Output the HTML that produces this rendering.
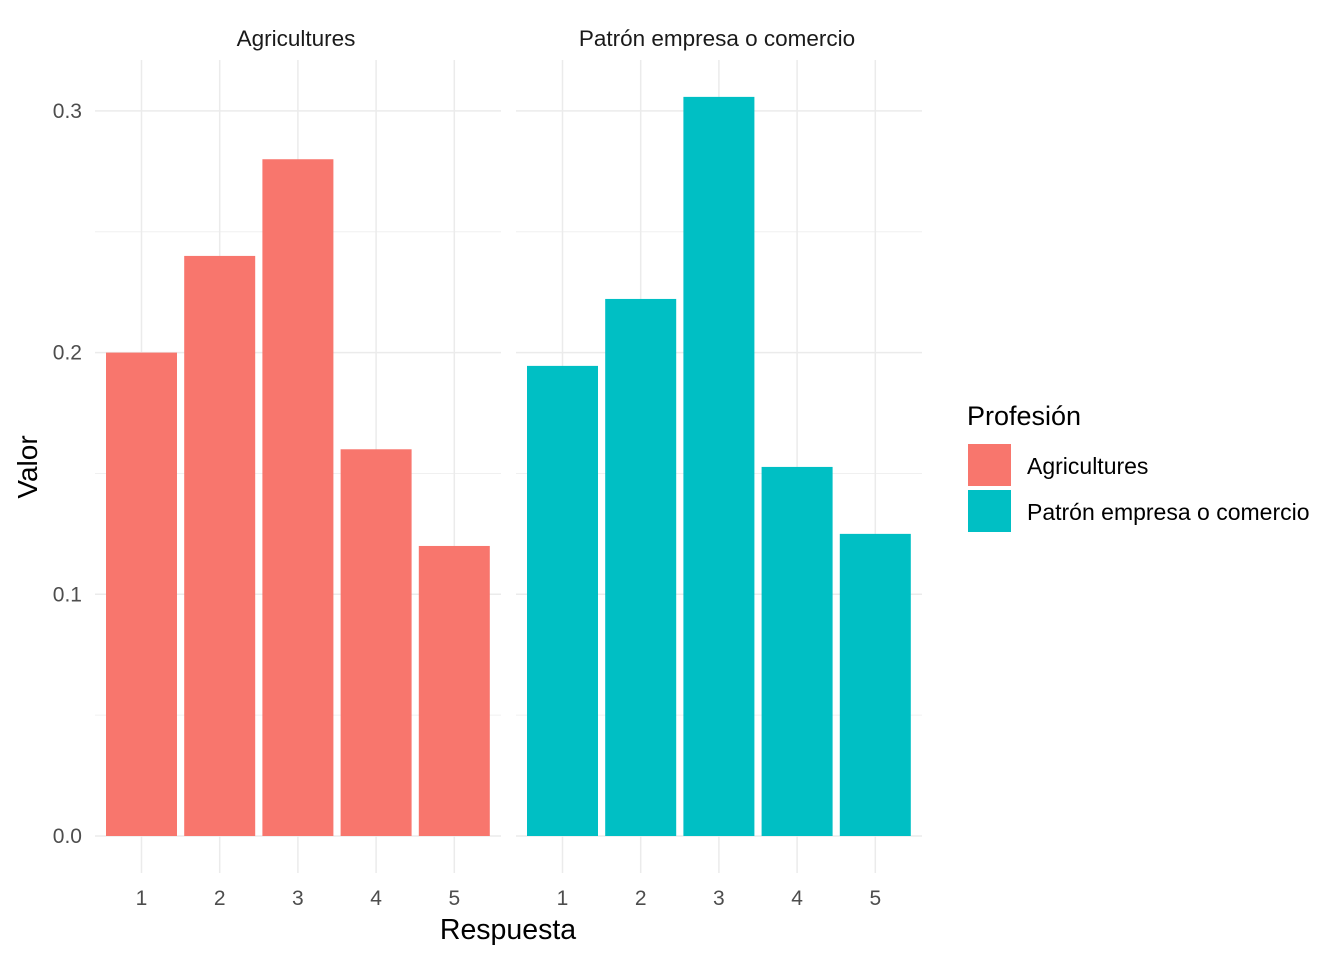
<!DOCTYPE html>
<html><head><meta charset="utf-8"><style>
body{margin:0;background:#fff;}
svg{display:block;font-family:"Liberation Sans",Arial,sans-serif;}
</style></head><body>
<svg id="chart" width="1344" height="960" xmlns="http://www.w3.org/2000/svg">
<g id="panels"></g>
<text x="508" y="939" font-size="28.5" text-anchor="middle" fill="#000">Respuesta</text>
<text transform="translate(37,467) rotate(-90)" font-size="28" text-anchor="middle" fill="#000">Valor</text>
<g>
<text x="967" y="425" font-size="27" fill="#000">Profesión</text>
<rect x="968" y="444" width="43" height="42" fill="#F8766D"/>
<text x="1027" y="474" font-size="23" fill="#000">Agricultures</text>
<rect x="968" y="490" width="43" height="42" fill="#00BFC4"/>
<text x="1027" y="520" font-size="23" fill="#000">Patrón empresa o comercio</text>
</g>
</svg>
<script>
const categories=["1","2","3","4","5"];
const agricultures=[0.2,0.24,0.28,0.16,0.12];
const patron=[0.1945,0.2222,0.3058,0.1527,0.125];
const yTicks=[0,0.1,0.2,0.3];
const yTickLabels=["0.0","0.1","0.2","0.3"];
const yMinor=[0.05,0.15,0.25];
const facets=["Agricultures","Patrón empresa o comercio"];

const NS="http://www.w3.org/2000/svg";
const y=v=>836-v*2417;
const panelX=[95,516], panelW=406, step=78.2, barW=71;
const xc=(p,i)=>panelX[p]+46.5+i*step;
const g=document.getElementById('panels');
function mk(t,a,parent){const e=document.createElementNS(NS,t);for(const k in a)e.setAttribute(k,a[k]);(parent||g).appendChild(e);return e;}
const series=[agricultures,patron], colors=["#F8766D","#00BFC4"];
facets.forEach((f,p)=>{
  const pg=mk('g',{});
  
  
  yMinor.forEach(v=>{const l=mk('line',{x1:panelX[p],x2:panelX[p]+panelW,y1:y(v),y2:y(v),stroke:"#f0f0f0","stroke-width":1},pg);
    });
  yTicks.forEach(v=>{const l=mk('line',{x1:panelX[p],x2:panelX[p]+panelW,y1:y(v),y2:y(v),stroke:"#ebebeb","stroke-width":1.5},pg);
    });
  categories.forEach((c,i)=>{const l=mk('line',{x1:xc(p,i),x2:xc(p,i),y1:60,y2:873,stroke:"#ebebeb","stroke-width":1.5},pg);
    });
  series[p].forEach((v,i)=>{const r=mk('rect',{x:xc(p,i)-barW/2,y:y(v),width:barW,height:y(0)-y(v),fill:colors[p]},pg);
    
    const t=mk('text',{x:xc(p,i),y:905,"font-size":21,"text-anchor":"middle",fill:"#4d4d4d"},pg);t.textContent=categories[i];
    });
  const s=mk('text',{x:panelX[p]+panelW/2-2,y:46,"font-size":22.5,"text-anchor":"middle",fill:"#1a1a1a"},pg);s.textContent=f;
  
});
yTicks.forEach((v,i)=>{const t=mk('text',{x:82,y:y(v)+7,"font-size":21,"text-anchor":"end",fill:"#4d4d4d"});t.textContent=yTickLabels[i];
  });
</script>
</body></html>
